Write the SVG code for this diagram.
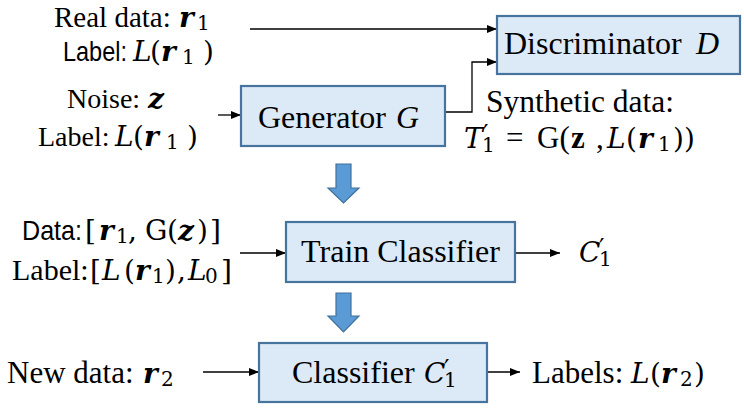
<svg xmlns="http://www.w3.org/2000/svg" width="744" height="413" viewBox="0 0 744 413">
<defs>
<marker id="ah" viewBox="0 0 10 8" refX="10" refY="4" markerWidth="10" markerHeight="8" markerUnits="userSpaceOnUse" orient="auto">
<path d="M0,0 L10,4 L0,8 Z" fill="#000"/>
</marker>
<style>
.box{fill:#DCE9F6;stroke:#47739F;stroke-width:2.2}
.blk{fill:#5B9BD5;stroke:#41719C;stroke-width:1.2}
.ln{fill:none;stroke:#000;stroke-width:1.3}
text{font-family:"Liberation Serif","Times New Roman",serif;font-size:29px;fill:#000}
.sans{font-family:"Liberation Sans",Arial,sans-serif;font-size:28px}
.m{font-family:"DejaVu Serif",serif;font-size:28px}
.ms{font-family:"DejaVu Serif",serif;font-size:20px}
.it{font-style:italic}
.bi{font-style:italic;font-weight:bold}
.b{font-weight:bold}
.pr{font-size:24px}
.bx{font-size:32px}
.f31{font-size:31px}
</style>
</defs>
<rect width="744" height="413" fill="#fff"/>
<g id="connectors">
<line class="ln" x1="250" y1="29" x2="497" y2="29" marker-end="url(#ah)"/>
<polyline class="ln" points="445,112 472,112 472,62 497,62" marker-end="url(#ah)"/>
<line class="ln" x1="218" y1="115" x2="241" y2="115" marker-end="url(#ah)"/>
<line class="ln" x1="240" y1="253" x2="286" y2="253" marker-end="url(#ah)"/>
<line class="ln" x1="515" y1="253" x2="560" y2="253" marker-end="url(#ah)"/>
<line class="ln" x1="203" y1="372" x2="259" y2="372" marker-end="url(#ah)"/>
<line class="ln" x1="487" y1="372" x2="520" y2="372" marker-end="url(#ah)"/>
<path class="blk" d="M336,164 H351 V188 H359 L343.5,203 L328,188 H336 Z"/>
<path class="blk" d="M336,293 H351 V316 H359 L343.5,332 L328,316 H336 Z"/>
</g>
<g id="inputs-top">
<text><tspan x="54" y="27">Real data:</tspan><tspan x="179" y="27" class="m bi">r</tspan><tspan x="197" y="30" class="ms">1</tspan></text>
<text><tspan x="63" y="61" class="sans" textLength="64" lengthAdjust="spacingAndGlyphs">Label:</tspan><tspan x="133" y="61" class="m it">L</tspan><tspan x="150" y="61" class="m">(</tspan><tspan x="161" y="61" class="m bi">r</tspan><tspan x="182" y="64" class="ms">1</tspan><tspan x="203" y="61" class="m">)</tspan></text>
<text><tspan x="67" y="108" style="font-size:28px">Noise:</tspan><tspan x="148" y="108" class="m bi">z</tspan></text>
<text><tspan x="38" y="146" style="font-size:28px">Label:</tspan><tspan x="115" y="146" class="m it">L</tspan><tspan x="133" y="146" class="m">(</tspan><tspan x="144" y="146" class="m bi">r</tspan><tspan x="166" y="149" class="ms">1</tspan><tspan x="187" y="146" class="m">)</tspan></text>
</g>
<g id="generator">
<rect class="box" x="241" y="86" width="204" height="60"/>
<text class="bx"><tspan x="258" y="128">Generator</tspan><tspan x="396" y="128" class="it">G</tspan></text>
</g>
<g id="discriminator">
<rect class="box" x="497" y="16" width="243" height="58"/>
<text class="bx"><tspan x="504" y="54">Discriminator</tspan><tspan x="696" y="54" class="it">D</tspan></text>
</g>
<g id="synthetic">
<text style="font-size:31.5px"><tspan x="486" y="112">Synthetic data:</tspan></text>
<text style="font-size:31px"><tspan x="464" y="148" class="m it">T</tspan><tspan x="483" y="142" class="pr m">′</tspan><tspan x="482" y="152" class="ms">1</tspan><tspan x="506" y="148">=</tspan><tspan x="537" y="148">G(</tspan><tspan x="571" y="148" class="b">z</tspan><tspan x="596" y="148">,</tspan><tspan x="607" y="148" class="m it">L</tspan><tspan x="626" y="148" class="m">(</tspan><tspan x="638" y="148" class="m bi">r</tspan><tspan x="658" y="151" class="ms">1</tspan><tspan x="673" y="148" class="m">))</tspan></text>
</g>
<g id="train-inputs">
<text><tspan x="22" y="240" class="sans" textLength="60" lengthAdjust="spacingAndGlyphs">Data:</tspan><tspan x="85" y="240" class="m">[</tspan><tspan x="99" y="240" class="m bi">r</tspan><tspan x="116" y="243" class="ms">1</tspan><tspan x="128" y="240" class="m">,</tspan><tspan x="145" y="240" class="m">G</tspan><tspan x="167" y="240" class="m">(</tspan><tspan x="178" y="240" class="m bi">z</tspan><tspan x="197" y="240" class="m">)</tspan><tspan x="210" y="240" class="m">]</tspan></text>
<text><tspan x="12" y="280" style="font-size:30px">Label:</tspan><tspan x="90" y="280" class="m">[</tspan><tspan x="102" y="280" class="m it">L</tspan><tspan x="124" y="280" class="m">(</tspan><tspan x="135" y="280" class="m bi">r</tspan><tspan x="152" y="283" class="ms">1</tspan><tspan x="165" y="280" class="m">)</tspan><tspan x="177" y="280" class="m">,</tspan><tspan x="188" y="280" class="m it">L</tspan><tspan x="205" y="283" class="ms">0</tspan><tspan x="221" y="280" class="m">]</tspan></text>
</g>
<g id="train-classifier">
<rect class="box" x="286" y="222" width="229" height="60"/>
<text class="bx" x="400.5" y="262" text-anchor="middle">Train Classifier</text>
</g>
<g id="c1-out">
<text><tspan x="579" y="262" class="m it">C</tspan><tspan x="599" y="256" class="pr m">′</tspan><tspan x="599" y="266" class="ms">1</tspan></text>
</g>
<g id="new-data">
<text class="f31"><tspan x="7" y="383">New data:</tspan><tspan x="143" y="383" class="m bi">r</tspan><tspan x="161" y="386" class="ms">2</tspan></text>
</g>
<g id="classifier">
<rect class="box" x="259" y="343" width="228" height="59"/>
<text class="bx"><tspan x="424" y="383" class="m it">C</tspan><tspan x="292" y="383">Classifier</tspan><tspan x="444" y="377" class="pr m">′</tspan><tspan x="444" y="387" class="ms">1</tspan></text>
</g>
<g id="labels-out">
<text class="f31"><tspan x="532" y="383">Labels:</tspan><tspan x="631" y="383" class="m it">L</tspan><tspan x="650" y="383" class="m">(</tspan><tspan x="661" y="383" class="m bi">r</tspan><tspan x="680" y="386" class="ms">2</tspan><tspan x="694" y="383" class="m">)</tspan></text>
</g>
</svg>
